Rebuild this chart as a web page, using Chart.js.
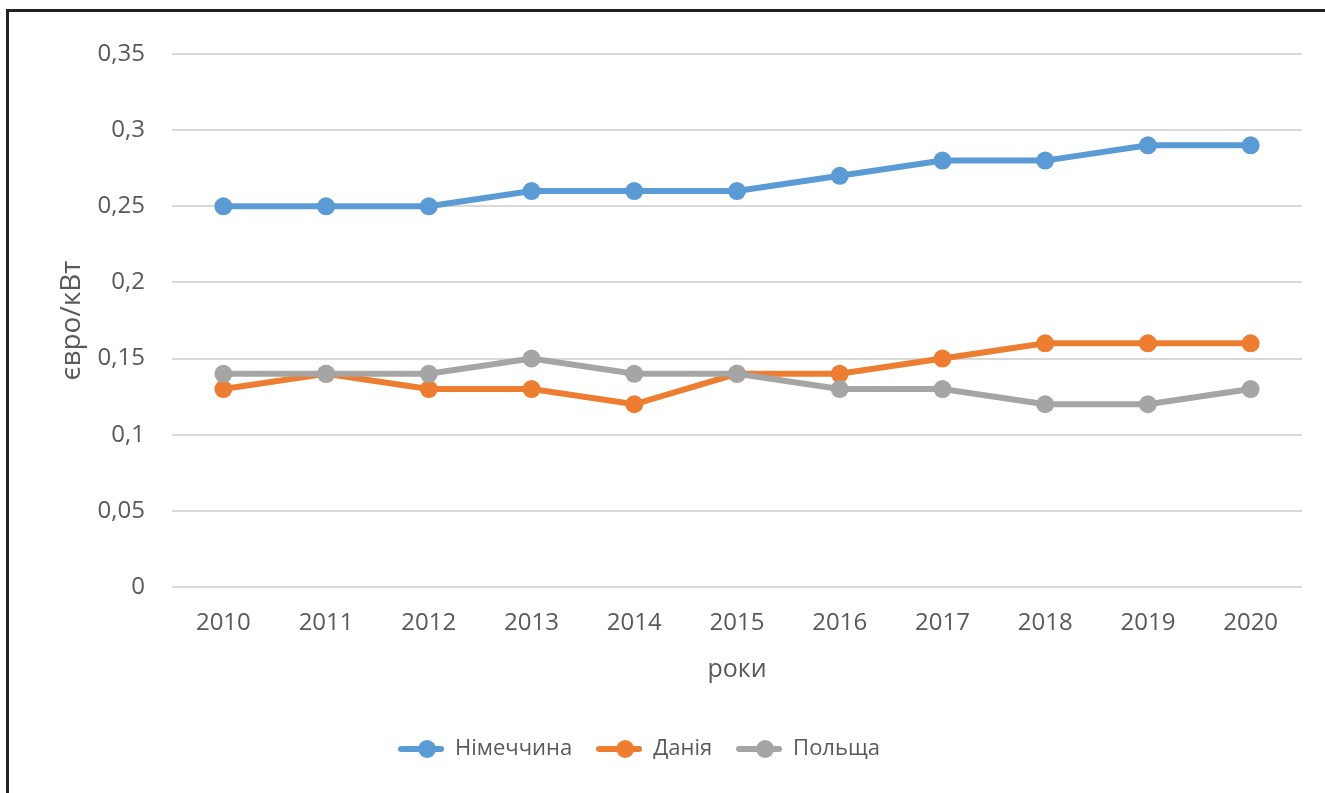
<!DOCTYPE html>
<html lang="uk">
<head>
    <meta charset="UTF-8">
    <title>євро/кВт</title>
    <script src="https://cdn.jsdelivr.net/npm/chart.js"></script>
    <style>
        body {
            margin: 0;
            background: #ffffff;
        }
        .wrap {
            position: relative;
            width: 1325px;
            height: 793px;
        }
    </style>
</head>
<body>
    <div class="wrap">
        <canvas id="priceChart"></canvas>
    </div>

    <script>
        // дані з графіка
        const years = ['2010', '2011', '2012', '2013', '2014', '2015', '2016', '2017', '2018', '2019', '2020'];
        const germany = [0.25, 0.25, 0.25, 0.26, 0.26, 0.26, 0.27, 0.28, 0.28, 0.29, 0.29];
        const denmark = [0.13, 0.14, 0.13, 0.13, 0.12, 0.14, 0.14, 0.15, 0.16, 0.16, 0.16];
        const poland = [0.14, 0.14, 0.14, 0.15, 0.14, 0.14, 0.13, 0.13, 0.12, 0.12, 0.13];

        const seriesNames = ['Німеччина', 'Данія', 'Польща'];
        const seriesColors = ['#5b9bd5', '#ed7d31', '#a5a5a5'];

        const fontFamily = '"Open Sans", "Noto Sans", sans-serif';
        const textColor = '#595959';

        // маркер легенди: лінія з кружечком
        function legendMarker(color) {
            const c = document.createElement('canvas');
            c.width = 46;
            c.height = 20;
            const g = c.getContext('2d');
            g.strokeStyle = color;
            g.lineWidth = 6;
            g.lineCap = 'round';
            g.beginPath();
            g.moveTo(3, 10);
            g.lineTo(43, 10);
            g.stroke();
            g.fillStyle = color;
            g.beginPath();
            g.arc(29, 10, 9, 0, Math.PI * 2);
            g.fill();
            return c;
        }
        const markers = seriesColors.map(legendMarker);

        // рамка зліва і зверху + зсув легенди трохи ліворуч
        const frame = {
            id: 'frame',
            beforeDraw(chart) {
                if (chart.legend && !chart.legend._shifted) {
                    chart.legend.left -= 32;
                    chart.legend.right -= 32;
                    chart.legend._shifted = true;
                }
            },
            afterDraw(chart) {
                const ctx = chart.ctx;
                ctx.save();
                ctx.strokeStyle = '#222222';
                ctx.lineWidth = 3;
                ctx.beginPath();
                ctx.moveTo(7.5, 793);
                ctx.lineTo(7.5, 10.5);
                ctx.lineTo(1325, 10.5);
                ctx.stroke();
                ctx.restore();
            }
        };

        const ctx = document.getElementById('priceChart').getContext('2d');
        new Chart(ctx, {
            type: 'line',
            data: {
                labels: years,
                datasets: [germany, denmark, poland].map((values, i) => ({
                    label: seriesNames[i],
                    data: values,
                    borderColor: seriesColors[i],
                    backgroundColor: seriesColors[i],
                    pointBackgroundColor: seriesColors[i],
                    pointBorderWidth: 0,
                    borderWidth: 6,
                    pointRadius: 9,
                    pointHoverRadius: 9,
                    tension: 0,
                    order: 2 - i
                }))
            },
            options: {
                responsive: true,
                maintainAspectRatio: false,
                animation: false,
                layout: {
                    padding: { left: 40, right: 23, top: 54, bottom: 23 }
                },
                scales: {
                    x: {
                        offset: true,
                        grid: { display: false, drawTicks: false },
                        border: { display: false },
                        ticks: {
                            padding: 22,
                            color: textColor,
                            font: { family: fontFamily, size: 24 }
                        },
                        title: {
                            display: true,
                            text: 'роки',
                            color: textColor,
                            font: { family: fontFamily, size: 25 },
                            padding: { top: 10, bottom: 29 }
                        },
                        afterFit(scale) {
                            scale.height = 127;
                        }
                    },
                    y: {
                        min: 0,
                        max: 0.35,
                        ticks: {
                            stepSize: 0.05,
                            padding: 27,
                            color: textColor,
                            font: { family: fontFamily, size: 24 },
                            callback: (v) => String(Math.round(v * 100) / 100).replace('.', ',')
                        },
                        grid: {
                            color: '#d9d9d9',
                            lineWidth: 2,
                            drawTicks: false
                        },
                        border: { display: false },
                        title: {
                            display: true,
                            text: 'євро/кВт',
                            color: textColor,
                            font: { family: fontFamily, size: 28 },
                            padding: { top: 15, bottom: 0 }
                        },
                        afterFit(scale) {
                            scale.width = 132;
                        }
                    }
                },
                plugins: {
                    legend: {
                        position: 'bottom',
                        labels: {
                            usePointStyle: true,
                            pointStyleWidth: 46,
                            padding: 24,
                            color: textColor,
                            font: { family: fontFamily, size: 22 },
                            generateLabels: (chart) => chart.data.datasets.map((ds, i) => ({
                                text: ds.label,
                                fontColor: textColor,
                                pointStyle: markers[i],
                                strokeStyle: ds.borderColor,
                                fillStyle: ds.borderColor,
                                lineWidth: 0,
                                hidden: false,
                                datasetIndex: i
                            }))
                        }
                    },
                    tooltip: { enabled: false }
                }
            },
            plugins: [frame]
        });
    </script>
</body>
</html>
